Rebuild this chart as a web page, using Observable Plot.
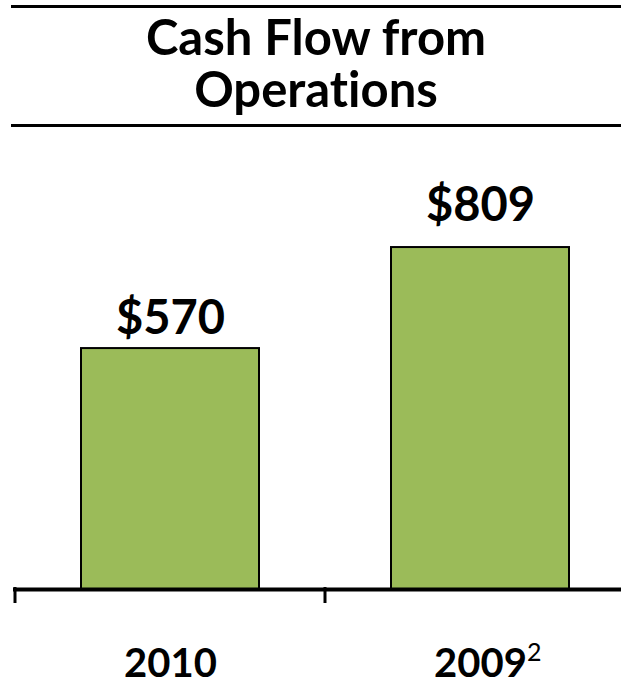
<!DOCTYPE html>
<html>
<head>
<meta charset="utf-8">
<script src="https://cdn.jsdelivr.net/npm/d3@7"></script>
<script src="https://cdn.jsdelivr.net/npm/@observablehq/plot@0.6"></script>
<style>
  html, body { margin: 0; padding: 0; background: #fff; }
  #wrap { width: 621px; height: 682px; overflow: hidden; position: relative; font-family: Lato, "Open Sans", sans-serif; }
  #title {
    margin: 5px 0 0 11px;
    border-top: 3px solid #000;
    border-bottom: 3px solid #000;
    padding-top: 2px;
    height: 114px;
    text-align: center;
    font-weight: 700;
    font-size: 49px;
    line-height: 52px;
    color: #000;
    font-variant-ligatures: none;
    font-feature-settings: "liga" 0, "clig" 0;
  }
  #chart svg { display: block; font-variant-ligatures: none; }
</style>
</head>
<body>
<div id="wrap">
  <div id="title">Cash Flow from<br>Operations</div>
  <div id="chart"></div>
</div>
<script>
// ---- data ----
const categories = ["2010", "2009"];
const values = [570, 809];
const footnotes = ["", "2"];
const yMax = 1093;

const data = categories.map((c, i) => ({cat: c, value: values[i], note: footnotes[i]}));

// tick marks at band boundaries, from the x scale
function boundaryTicks(index, scales) {
  const x = scales.x;
  const bw = typeof x.bandwidth === "function" ? x.bandwidth() : scales.scales.x.bandwidth;
  const y0 = scales.y(0);
  const edges = categories.map(c => x(c)).concat([x(categories[categories.length - 1]) + bw]);
  const g = d3.create("svg:g");
  g.selectAll("line").data(edges).join("line")
    .attr("x1", d => d).attr("x2", d => d)
    .attr("y1", y0 - 2).attr("y2", y0 + 14)
    .attr("stroke", "#000").attr("stroke-width", 3);
  return g.node();
}

const labelStyle = {lineAnchor: "bottom", fontSize: 47, fontWeight: "bold", fill: "#000"};

const chart = Plot.plot({
  width: 621,
  height: 555,
  marginTop: 0,
  marginBottom: 93,
  marginLeft: 13,
  marginRight: 0,
  style: {fontFamily: "Lato, 'Open Sans', sans-serif", background: "#fff", color: "#000"},
  x: {type: "band", domain: categories, range: [15, 635], padding: 0, label: null},
  y: {domain: [0, yMax], axis: null},
  marks: [
    Plot.barY(data, {x: "cat", y: "value", fill: "#9BBB59", stroke: "#000", strokeWidth: 2, insetLeft: 66, insetRight: 66}),
    Plot.ruleY([0], {stroke: "#000", strokeWidth: 4}),
    boundaryTicks,
    Plot.text(data.filter(d => d.cat === "2010"), {x: "cat", y: "value", text: d => "$" + d.value, dy: -15, ...labelStyle}),
    Plot.text(data.filter(d => d.cat === "2009"), {x: "cat", y: "value", text: d => "$" + d.value, dy: -27, ...labelStyle}),
    Plot.axisX({tickSize: 0, tickPadding: 59, fontSize: 40, fontWeight: "bold", fill: "#000", label: null})
  ]
});

document.getElementById("chart").appendChild(chart);

// superscript footnote markers after axis labels (label itself stays centred)
d3.select(chart).selectAll("text").each(function() {
  const t = this.textContent;
  const i = categories.indexOf(t);
  if (i < 0 || !footnotes[i]) return;
  const sup = document.createElementNS("http://www.w3.org/2000/svg", "tspan");
  sup.setAttribute("font-size", 25);
  sup.setAttribute("font-weight", "normal");
  sup.setAttribute("dx", 0);
  sup.setAttribute("dy", "-0.62em");
  sup.textContent = footnotes[i];
  this.appendChild(sup);
  const w = sup.getComputedTextLength();
  this.setAttribute("x", w / 2);
});
</script>
</body>
</html>
